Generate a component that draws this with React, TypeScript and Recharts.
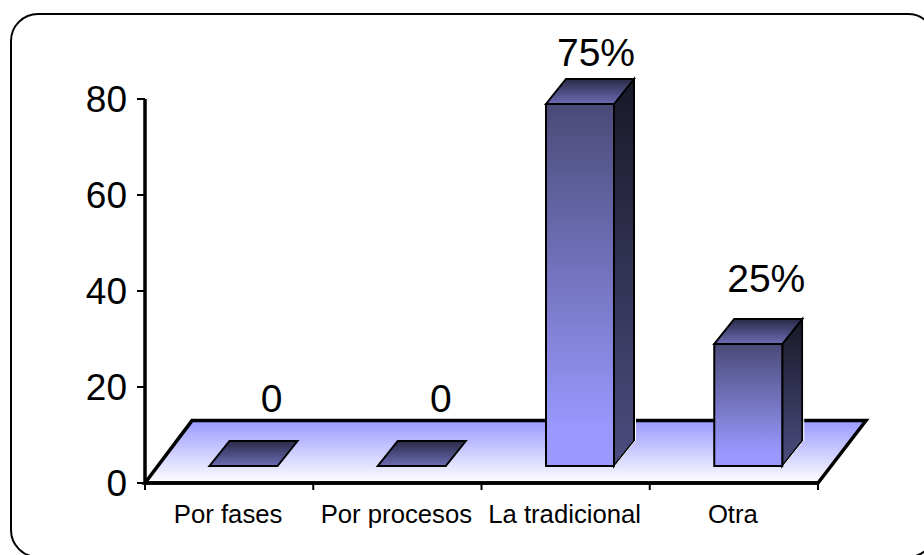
import { BarChart, Bar, XAxis, YAxis, ReferenceArea } from 'recharts';

const categories = ['Por fases', 'Por procesos', 'La tradicional', 'Otra'];
const values = [0, 0, 75, 25];
const valueLabels = ['0', '0', '75%', '25%'];
const yTicks = [0, 20, 40, 60, 80];
// hand placed labels in the original slide: dx, dy from the bar's top back edge
const labelNudge = [
  [28, -29],
  [29, -29],
  [16, -13],
  [18, -27],
];

const chartData = categories.map((name, i) => ({ name, value: values[i], label: valueLabels[i] }));

const FONT = '"Liberation Sans", Arial, sans-serif';
const PLOT_WIDTH = 673;
const BAND = PLOT_WIDTH / categories.length;
// fake 3d: the bars stand on the floor, not on the axis line
const BASE_LIFT = 17;
const DEPTH_X = 20;
const DEPTH_Y = 25;
const BAR_SHIFT = 14.5;
const TOP_EXTRA = 2;

function Floor(props: any) {
  const { x, y, width, height } = props;
  const pts = [
    [x, y + height],
    [x + width, y + height],
    [x + width + 48, y],
    [x + 47, y],
  ];
  return (
    <polygon
      points={pts.map((p) => p.join(',')).join(' ')}
      fill="url(#floorFill)"
      stroke="#000"
      strokeWidth={3.5}
      strokeLinejoin="miter"
    />
  );
}

function Bar3D(props: any) {
  const { x, y, width, height, index } = props;
  const h = height > 0 ? height + TOP_EXTRA : 0;
  const left = x + BAR_SHIFT;
  const right = left + width;
  const bottom = y + height - BASE_LIFT;
  const top = bottom - h;
  const [nx, ny] = labelNudge[index];
  const topFace = `${left},${top} ${right},${top} ${right + DEPTH_X},${top - DEPTH_Y} ${left + DEPTH_X},${top - DEPTH_Y}`;
  const sideFace = `${right},${top} ${right + DEPTH_X},${top - DEPTH_Y} ${right + DEPTH_X},${bottom - DEPTH_Y} ${right},${bottom}`;
  return (
    <g>
      {h > 0 && (
        <>
          <polygon points={sideFace} fill="url(#sideFill)" stroke="#000" strokeWidth={2} />
          <line x1={right + 1} y1={bottom} x2={right + DEPTH_X + 1} y2={bottom - DEPTH_Y} stroke="#fff" strokeWidth={1} />
          <line x1={right + DEPTH_X + 1.5} y1={top - DEPTH_Y} x2={right + DEPTH_X + 1.5} y2={bottom - DEPTH_Y} stroke="#fff" strokeWidth={1} />
          <rect x={left} y={top} width={width} height={h} fill="url(#frontFill)" stroke="#000" strokeWidth={2} />
        </>
      )}
      <polygon points={topFace} fill="url(#topFill)" stroke="#000" strokeWidth={2} />
      <text
        x={left + width / 2 + nx}
        y={top - DEPTH_Y + ny}
        textAnchor="middle"
        fontFamily={FONT}
        fontSize={39}
        fill="#000"
      >
        {valueLabels[index]}
      </text>
    </g>
  );
}

function CategoryTick(props: any) {
  const { x, y, payload, index } = props;
  return (
    <g>
      <line x1={x - BAND / 2} y1={y - 8} x2={x - BAND / 2} y2={y - 1} stroke="#000" strokeWidth={2} />
      {index === categories.length - 1 && (
        <line x1={x + BAND / 2} y1={y - 8} x2={x + BAND / 2} y2={y - 1} stroke="#000" strokeWidth={2} />
      )}
      <text x={x - 1} y={y + 32} textAnchor="middle" fontFamily={FONT} fontSize={25.7} fill="#000">
        {payload.value}
      </text>
    </g>
  );
}

export default function App() {
  return (
    <div style={{ position: 'absolute', left: 0, top: 0, width: 924, height: 555, overflow: 'hidden', background: '#fff' }}>
      <div
        style={{
          position: 'absolute',
          left: 10,
          top: 13,
          width: 926,
          height: 545,
          boxSizing: 'border-box',
          border: '2.5px solid #000',
          borderRadius: 28,
        }}
      />
      <BarChart
        width={924}
        height={555}
        data={chartData}
        margin={{ top: 99, right: 106, bottom: 32, left: 85 }}
        style={{ position: 'absolute', left: 0, top: 0 }}
      >
        <defs>
          <linearGradient id="floorFill" x1="0" y1="0" x2="0" y2="1">
            <stop offset="0" stopColor="#9999ff" />
            <stop offset="1" stopColor="#ffffff" />
          </linearGradient>
          <linearGradient id="frontFill" x1="0" y1="0" x2="0" y2="1">
            <stop offset="0" stopColor="#4a4a78" />
            <stop offset="0.9" stopColor="#9999ff" />
            <stop offset="1" stopColor="#9999ff" />
          </linearGradient>
          <linearGradient id="topFill" x1="0" y1="0" x2="0" y2="1">
            <stop offset="0" stopColor="#2a2a48" />
            <stop offset="1" stopColor="#6c6cb4" />
          </linearGradient>
          <linearGradient id="sideFill" x1="0" y1="0" x2="0" y2="1">
            <stop offset="0" stopColor="#181828" />
            <stop offset="1" stopColor="#4d4d80" />
          </linearGradient>
        </defs>
        <ReferenceArea y1={0} y2={13} shape={Floor} ifOverflow="visible" />
        <XAxis dataKey="name" height={40} axisLine={{ stroke: '#000', strokeWidth: 3.5 }} tickLine={false} interval={0} tick={CategoryTick} />
        <YAxis
          width={60}
          domain={[0, 80]}
          ticks={yTicks}
          axisLine={{ stroke: '#000', strokeWidth: 3.5 }}
          tickLine={{ stroke: '#000', strokeWidth: 2 }}
          tickSize={8}
          tickMargin={10}
          tick={{ fontFamily: FONT, fontSize: 37, fill: '#000' }}
        />
        <Bar dataKey="value" barSize={68} isAnimationActive={false} shape={Bar3D} />
      </BarChart>
    </div>
  );
}
